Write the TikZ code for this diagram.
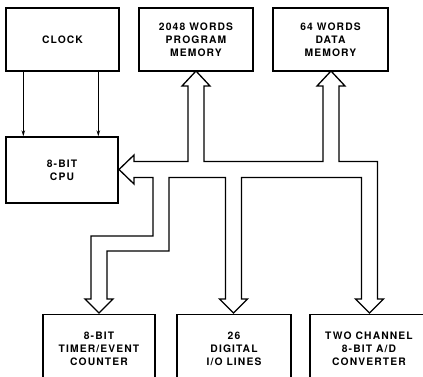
\documentclass[tikz,border=0pt]{standalone}
\usepackage{fontspec}
\setmainfont{TeX Gyre Heros}
\usetikzlibrary{arrows.meta}
\begin{document}
\begin{tikzpicture}[x=1pt,y=-1pt,
  blk/.style={draw,line width=1.4pt,rectangle,inner sep=0pt,align=center,
    font=\fontsize{10.3}{13}\selectfont\bfseries\addfontfeature{LetterSpace=11}},
  clk/.style={line width=0.9pt,-{Stealth[length=6pt,width=3.5pt]}},
  bus/.style={draw,line width=1.3pt,line join=miter}]
\useasboundingbox (0,0) rectangle (423,377);
\node[blk,minimum width=113pt,minimum height=63pt] (clock) at (62.5,39.5) {CLOCK};
\node[blk,minimum width=114pt,minimum height=63pt] (prog) at (196,39.5) {2048 WORDS\\PROGRAM\\MEMORY};
\node[blk,minimum width=115pt,minimum height=63pt] (data) at (330.5,39.5) {64 WORDS\\DATA\\MEMORY};
\node[blk,minimum width=112pt,minimum height=66pt] (cpu) at (62,170) {8-BIT\\CPU};
\node[blk,anchor=north,minimum width=112pt,minimum height=68pt] (timer) at (99,314) {8-BIT\\TIMER/EVENT\\COUNTER};
\node[blk,anchor=north,minimum width=114pt,minimum height=68pt] (io) at (234,314) {26\\DIGITAL\\I/O LINES};
\node[blk,anchor=north,minimum width=118pt,minimum height=68pt] (ad) at (369,314) {TWO CHANNEL\\8-BIT A/D\\CONVERTER};
\draw[clk] ([xshift=18pt]clock.south west) -- ([xshift=18pt]cpu.north west);
\draw[clk] ([xshift=93pt]clock.south west) -- ([xshift=93pt]cpu.north west);
\draw[bus] (119,169.5) -- (134,155) -- (134,161.5) -- (188,161.5) -- (188,86) -- (182,86)
  -- (196,71) -- (210,86) -- (204,86) -- (204,161.5) -- (323,161.5) -- (323,86) -- (317,86)
  -- (331,71) -- (345,86) -- (339,86) -- (339,161.5) -- (377.5,161.5) -- (377.5,299)
  -- (383.5,299) -- (369.5,313) -- (355.5,299) -- (361.5,299) -- (361.5,177.5)
  -- (241.5,177.5) -- (241.5,299) -- (247.5,299) -- (233.5,313) -- (219.5,299)
  -- (225.5,299) -- (225.5,177.5) -- (169,177.5) -- (169,251) -- (107,251) -- (107,299)
  -- (113,299) -- (99,313) -- (85,299) -- (91,299) -- (91,236) -- (153,236)
  -- (153,177.5) -- (134,177.5) -- (134,184) -- cycle;
\end{tikzpicture}
\end{document}
